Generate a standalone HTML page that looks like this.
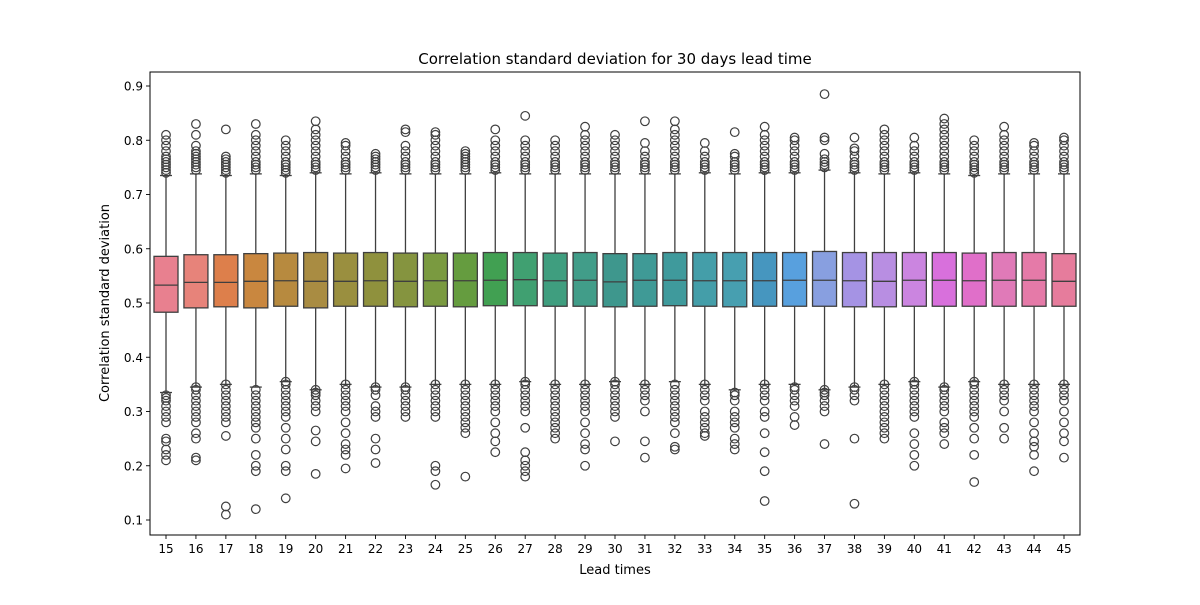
<!DOCTYPE html>
<html><head><meta charset="utf-8"><style>
body{margin:0;background:#fff}
svg text{font-family:"DejaVu Sans","Liberation Sans",sans-serif;fill:#000}
</style></head><body>
<svg id="chart" width="1200" height="600" xmlns="http://www.w3.org/2000/svg">
<text x="615" y="64" font-size="15" text-anchor="middle">Correlation standard deviation for 30 days lead time</text>
<text x="615" y="574" font-size="13" text-anchor="middle">Lead times</text>
<text x="0" y="0" font-size="13" text-anchor="middle" transform="translate(109,303) rotate(-90)">Correlation standard deviation</text>
<g id="plot"></g>
</svg>
<script>
const categories=[15,16,17,18,19,20,21,22,23,24,25,26,27,28,29,30,31,32,33,34,35,36,37,38,39,40,41,42,43,44,45];
const q1=[0.483,0.491,0.493,0.491,0.494,0.491,0.494,0.494,0.493,0.494,0.493,0.495,0.495,0.494,0.494,0.493,0.494,0.495,0.494,0.493,0.494,0.494,0.494,0.493,0.493,0.494,0.494,0.494,0.494,0.494,0.494];
const medians=[0.533,0.538,0.538,0.540,0.541,0.540,0.540,0.541,0.540,0.541,0.541,0.542,0.543,0.541,0.542,0.539,0.542,0.542,0.541,0.541,0.541,0.542,0.542,0.541,0.540,0.542,0.542,0.541,0.542,0.542,0.540];
const q3=[0.586,0.589,0.589,0.591,0.592,0.593,0.592,0.593,0.592,0.592,0.592,0.593,0.593,0.592,0.593,0.591,0.591,0.593,0.593,0.593,0.593,0.593,0.595,0.593,0.593,0.593,0.593,0.592,0.593,0.593,0.591];
const whiskLo=[0.335,0.345,0.35,0.345,0.355,0.34,0.35,0.345,0.345,0.35,0.35,0.35,0.355,0.35,0.35,0.355,0.35,0.355,0.35,0.34,0.35,0.35,0.34,0.345,0.35,0.355,0.345,0.355,0.35,0.35,0.35];
const whiskHi=[0.735,0.738,0.735,0.738,0.735,0.74,0.738,0.74,0.738,0.738,0.738,0.74,0.738,0.738,0.738,0.738,0.738,0.738,0.74,0.738,0.74,0.74,0.745,0.74,0.738,0.74,0.738,0.735,0.738,0.738,0.738];
const lowOutliers=[
[0.33,0.325,0.32,0.31,0.30,0.29,0.28,0.25,0.245,0.23,0.22,0.21],
[0.345,0.34,0.33,0.32,0.31,0.30,0.29,0.28,0.26,0.25,0.215,0.21],
[0.35,0.34,0.33,0.32,0.31,0.30,0.29,0.28,0.255,0.125,0.11],
[0.34,0.33,0.32,0.31,0.30,0.29,0.28,0.27,0.25,0.22,0.2,0.19,0.12],
[0.355,0.35,0.34,0.33,0.32,0.31,0.30,0.29,0.27,0.25,0.23,0.2,0.19,0.14],
[0.34,0.335,0.33,0.32,0.31,0.30,0.265,0.245,0.185],
[0.35,0.34,0.33,0.32,0.31,0.30,0.28,0.26,0.24,0.23,0.22,0.195],
[0.345,0.34,0.33,0.31,0.30,0.29,0.25,0.23,0.205],
[0.345,0.34,0.33,0.32,0.31,0.30,0.29],
[0.35,0.34,0.33,0.32,0.31,0.30,0.29,0.2,0.19,0.165],
[0.35,0.34,0.33,0.32,0.31,0.30,0.29,0.28,0.27,0.26,0.18],
[0.35,0.34,0.33,0.32,0.31,0.30,0.28,0.26,0.245,0.225],
[0.355,0.35,0.34,0.33,0.32,0.31,0.30,0.27,0.225,0.21,0.2,0.19,0.18],
[0.35,0.34,0.33,0.32,0.31,0.30,0.29,0.28,0.27,0.26,0.25],
[0.35,0.34,0.33,0.32,0.31,0.30,0.28,0.26,0.24,0.23,0.2],
[0.355,0.35,0.34,0.33,0.32,0.31,0.30,0.29,0.245],
[0.35,0.34,0.33,0.32,0.30,0.245,0.215],
[0.35,0.34,0.33,0.32,0.31,0.30,0.29,0.28,0.26,0.235,0.23],
[0.35,0.34,0.33,0.32,0.30,0.29,0.28,0.27,0.26,0.255],
[0.335,0.33,0.32,0.30,0.29,0.28,0.27,0.25,0.24,0.23],
[0.35,0.34,0.33,0.32,0.30,0.29,0.26,0.225,0.19,0.135],
[0.345,0.34,0.33,0.32,0.31,0.29,0.275],
[0.34,0.335,0.33,0.32,0.31,0.30,0.24],
[0.345,0.34,0.33,0.32,0.25,0.13],
[0.35,0.34,0.33,0.32,0.31,0.30,0.29,0.28,0.27,0.26,0.25],
[0.355,0.35,0.34,0.33,0.32,0.31,0.30,0.29,0.26,0.24,0.22,0.2],
[0.345,0.34,0.33,0.32,0.31,0.30,0.28,0.27,0.26,0.24],
[0.355,0.35,0.34,0.33,0.32,0.31,0.30,0.29,0.27,0.25,0.22,0.17],
[0.35,0.34,0.33,0.32,0.30,0.27,0.25],
[0.35,0.34,0.33,0.32,0.31,0.30,0.28,0.26,0.245,0.235,0.22,0.19],
[0.35,0.34,0.33,0.32,0.30,0.28,0.26,0.245,0.215]];
const highOutliers=[
[0.74,0.745,0.75,0.755,0.76,0.765,0.77,0.78,0.79,0.80,0.81],
[0.745,0.75,0.755,0.76,0.765,0.77,0.775,0.78,0.79,0.81,0.83],
[0.74,0.745,0.75,0.755,0.76,0.765,0.77,0.82],
[0.745,0.75,0.755,0.76,0.77,0.78,0.79,0.80,0.81,0.83],
[0.74,0.745,0.75,0.755,0.76,0.77,0.78,0.79,0.80],
[0.745,0.75,0.755,0.76,0.77,0.78,0.79,0.80,0.81,0.82,0.835],
[0.745,0.75,0.755,0.76,0.77,0.78,0.79,0.795],
[0.745,0.75,0.755,0.76,0.765,0.77,0.775],
[0.745,0.75,0.755,0.76,0.77,0.78,0.79,0.815,0.82],
[0.745,0.75,0.755,0.76,0.77,0.78,0.79,0.80,0.81,0.815],
[0.745,0.75,0.755,0.76,0.765,0.77,0.775,0.78],
[0.745,0.75,0.755,0.76,0.77,0.78,0.79,0.80,0.82],
[0.745,0.75,0.755,0.76,0.77,0.78,0.79,0.80,0.845],
[0.745,0.75,0.755,0.76,0.77,0.78,0.79,0.80],
[0.745,0.75,0.755,0.76,0.77,0.78,0.79,0.80,0.81,0.825],
[0.745,0.75,0.755,0.76,0.77,0.78,0.79,0.80,0.81],
[0.745,0.75,0.755,0.76,0.77,0.78,0.795,0.835],
[0.745,0.75,0.755,0.76,0.77,0.78,0.79,0.80,0.81,0.82,0.835],
[0.745,0.75,0.755,0.76,0.77,0.78,0.795],
[0.745,0.75,0.755,0.76,0.77,0.775,0.815],
[0.745,0.75,0.755,0.76,0.77,0.78,0.79,0.80,0.81,0.825],
[0.745,0.75,0.755,0.76,0.77,0.78,0.79,0.80,0.805],
[0.75,0.755,0.76,0.765,0.775,0.80,0.805,0.885],
[0.745,0.75,0.755,0.76,0.77,0.78,0.785,0.805],
[0.745,0.75,0.755,0.76,0.77,0.78,0.79,0.80,0.81,0.82],
[0.745,0.75,0.755,0.76,0.77,0.78,0.79,0.805],
[0.745,0.75,0.755,0.76,0.77,0.78,0.79,0.80,0.81,0.82,0.83,0.84],
[0.74,0.745,0.75,0.755,0.76,0.77,0.78,0.79,0.80],
[0.745,0.75,0.755,0.76,0.77,0.78,0.79,0.80,0.81,0.825],
[0.745,0.75,0.755,0.76,0.77,0.78,0.79,0.795],
[0.745,0.75,0.755,0.76,0.77,0.78,0.79,0.80,0.805]];
const yTicks=[0.1,0.2,0.3,0.4,0.5,0.6,0.7,0.8,0.9];
const colors=["#e8808f","#e7837a","#dd7f4b","#c9873f","#b78a3f","#a98c42","#9a8f3f","#8f913d","#85943f","#7a9a40","#659c3f","#41a052","#40a071","#3f9e7f","#419d89","#3e978d","#3f9a96","#3f9a9c","#449ea9","#479fb0","#4696bf","#58a0de","#889fe0","#a593e4","#b88ee2","#cb85e0","#d870dc","#e06fc9","#e07ab8","#e57aa8","#e67c9c"];
const L=150,R=1080,T=72,B=535;
const y=v=>303-(v-0.5)*542.5;
const x=i=>166+i*(1064-166)/(categories.length-1);
const NS="http://www.w3.org/2000/svg";
const g=document.getElementById('plot');
function mk(t,a,p){const e=document.createElementNS(NS,t);for(const k in a)e.setAttribute(k,a[k]);(p||g).appendChild(e);return e;}
const half=12;
categories.forEach((c,i)=>{
  const cx=x(i);
  const grp=mk('g',{});
  
  
  const st={stroke:'#3f3f3f','stroke-width':1.3,fill:'none'};
  mk('line',Object.assign({x1:cx,x2:cx,y1:y(q3[i]),y2:y(whiskHi[i])},st),grp);
  mk('line',Object.assign({x1:cx,x2:cx,y1:y(q1[i]),y2:y(whiskLo[i])},st),grp);
  mk('line',Object.assign({x1:cx-6,x2:cx+6,y1:y(whiskHi[i]),y2:y(whiskHi[i])},st),grp);
  mk('line',Object.assign({x1:cx-6,x2:cx+6,y1:y(whiskLo[i]),y2:y(whiskLo[i])},st),grp);
  mk('rect',{x:cx-half,y:y(q3[i]),width:2*half,height:y(q1[i])-y(q3[i]),fill:colors[i],stroke:'#3f3f3f','stroke-width':1.3},grp);
  mk('line',Object.assign({x1:cx-half,x2:cx+half,y1:y(medians[i]),y2:y(medians[i])},st),grp);
  lowOutliers[i].concat(highOutliers[i]).forEach(v=>{
    const o=mk('circle',{cx:cx,cy:y(v),r:4.3,fill:'none',stroke:'#3f3f3f','stroke-width':1.2},grp);
    
    
  });
  mk('line',{x1:cx,x2:cx,y1:B,y2:B+4,stroke:'#000','stroke-width':0.9});
  const t=mk('text',{x:cx,y:B+18,'font-size':12,'text-anchor':'middle'});
  t.textContent=c;
  
  
});
yTicks.forEach(v=>{
  mk('line',{x1:L-4,x2:L,y1:y(v),y2:y(v),stroke:'#000','stroke-width':0.9});
  const t=mk('text',{x:L-7,y:y(v)+4.5,'font-size':12,'text-anchor':'end'});
  t.textContent=v.toFixed(1);
  
  
});
const fr=mk('rect',{x:L,y:T,width:R-L,height:B-T,fill:'none',stroke:'#000','stroke-width':1});


</script>
</body></html>
